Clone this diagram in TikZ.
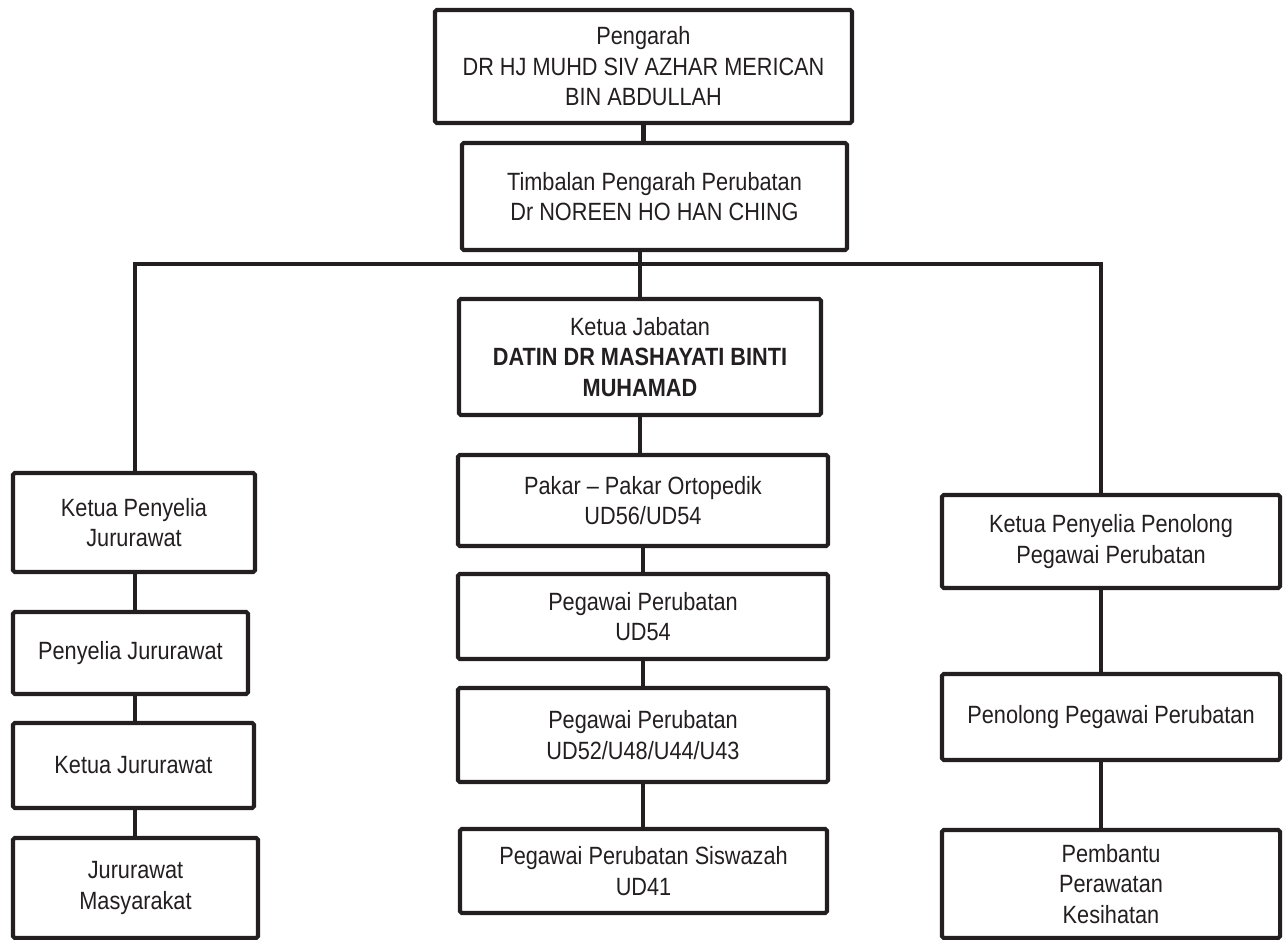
\documentclass[tikz,border=0pt]{standalone}
\usepackage{fontspec}
\setmainfont{Liberation Sans}[FakeStretch=0.87]
\definecolor{ink}{HTML}{231F20}
\tikzset{
  post/.style={draw=ink, line width=2.3pt, rounded corners=1pt, align=center, inner sep=2pt, text=ink, font=\fontsize{14.2}{17.4}\selectfont},
  link/.style={draw=ink, line width=2.3pt},
}

\begin{document}
\begin{tikzpicture}
    \useasboundingbox (0,0) rectangle (25.70,-18.80);
    % top of the chart
    \node[post, minimum width=8.34cm, minimum height=2.26cm] (dir) at (12.87,-1.33) {Pengarah\\DR HJ MUHD SIV AZHAR MERICAN\\BIN ABDULLAH};
    \node[post, minimum width=7.70cm, minimum height=2.14cm] (dep) at (13.09,-3.93) {Timbalan Pengarah Perubatan\\Dr NOREEN HO HAN CHING};
    \coordinate (busL) at (2.70,-5.28);
    \coordinate (busR) at (22.02,-5.28);
    % middle column
    \node[post, minimum width=7.24cm, minimum height=2.32cm] (hod) at (12.80,-7.14) {Ketua Jabatan\\\textbf{DATIN DR MASHAYATI BINTI}\\\textbf{MUHAMAD}};
    \node[post, minimum width=7.40cm, minimum height=1.82cm] (pakar) at (12.86,-10.01) {Pakar – Pakar Ortopedik\\UD56/UD54};
    \node[post, minimum width=7.40cm, minimum height=1.70cm] (mo54) at (12.86,-12.33) {Pegawai Perubatan\\UD54};
    \node[post, minimum width=7.40cm, minimum height=1.88cm] (mo52) at (12.86,-14.70) {Pegawai Perubatan\\UD52/U48/U44/U43};
    \node[post, minimum width=7.34cm, minimum height=1.68cm] (ho41) at (12.87,-17.42) {Pegawai Perubatan Siswazah\\UD41};
    % left column
    \node[post, minimum width=4.84cm, minimum height=1.98cm] (kpj) at (2.68,-10.45) {Ketua Penyelia\\Jururawat};
    \node[post, minimum width=4.70cm, minimum height=1.64cm] (pj) at (2.61,-13.06) {Penyelia Jururawat};
    \node[post, minimum width=4.82cm, minimum height=1.70cm] (kj) at (2.67,-15.31) {Ketua Jururawat};
    \node[post, minimum width=4.90cm, minimum height=2.00cm] (jm) at (2.71,-17.76) {Jururawat\\Masyarakat};
    % right column
    \node[post, minimum width=6.76cm, minimum height=1.86cm] (kpppp) at (22.22,-10.83) {Ketua Penyelia Penolong\\Pegawai Perubatan};
    \node[post, minimum width=6.76cm, minimum height=1.72cm] (ppp) at (22.22,-14.34) {Penolong Pegawai Perubatan};
    \node[post, minimum width=6.76cm, minimum height=2.16cm] (ppk) at (22.22,-17.68) {Pembantu\\Perawatan\\Kesihatan};
    % connectors
    \draw[link] (dir.south) -- (dir.south |- dep.north);
    \draw[link] (hod.north |- dep.south) -- (hod.north);
    \draw[link] (busL |- kpj.north) -- (busL) -- (busR) -- (busR |- kpppp.north);
    \foreach \p/\q in {hod/pakar, pakar/mo54, mo54/mo52, mo52/ho41} \draw[link] (\p.south) -- (\p.south |- \q.north);
    \foreach \p/\q in {kpj/pj, pj/kj, kj/jm} \draw[link] (busL |- \p.south) -- (busL |- \q.north);
    \foreach \p/\q in {kpppp/ppp, ppp/ppk} \draw[link] (busR |- \p.south) -- (busR |- \q.north);
\end{tikzpicture}
\end{document}
